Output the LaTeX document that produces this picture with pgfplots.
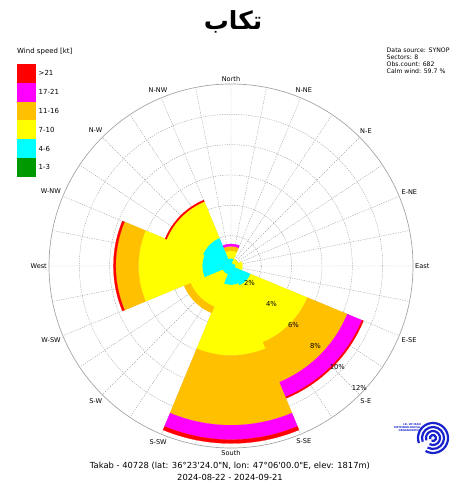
\documentclass[border=0pt]{standalone}
\usepackage{fontspec}
\setmainfont{DejaVu Sans}
\newfontfamily\arabicfont[Script=Arabic]{DejaVu Sans}
\TeXXeTstate=1
\usepackage{pgfplots}
\usepackage{pgfplotstable}
\usepgfplotslibrary{polar}
\pgfplotsset{compat=1.18}
\definecolor{cA}{RGB}{0,153,0}
\definecolor{cB}{RGB}{0,255,255}
\definecolor{cC}{RGB}{255,255,0}
\definecolor{cD}{RGB}{255,192,0}
\definecolor{cE}{RGB}{255,0,255}
\definecolor{cF}{RGB}{255,0,0}
\definecolor{gridc}{RGB}{165,165,165}
\definecolor{logob}{RGB}{25,35,205}

% wind rose: direction (math angle, deg) and percentage per speed class
\pgfplotstableread{
dir  c1  c2   c3   c4   c5   c6
90   0   0.50 0.50 0.30 0.15 0
45   0   0.20 0.30 0    0    0
0    0   0.30 0.45 0    0    0
-45  0   1.40 4.05 2.85 1.05 0.10
-90  0   1.25 4.65 4.60 0.95 0.25
-135 0   0.60 2.30 0.45 0    0
180  0   1.90 4.20 1.50 0    0.15
135  0   2.00 2.60 0    0    0.10
}\rosedata

\newcommand{\rosewedge}[4]{%
  \gdef\wpts{}%
  \foreach \k in {0,...,24}{%
    \pgfmathsetmacro\wang{#1-22.5+1.875*\k}%
    \xdef\wpts{\wpts(\wang,#3)}%
  }%
  \foreach \k in {24,23,...,0}{%
    \pgfmathsetmacro\wang{#1-22.5+1.875*\k}%
    \xdef\wpts{\wpts(\wang,#2)}%
  }%
  \edef\wcmd{\noexpand\addplot[draw=#4, line width=0.2bp, fill=#4, forget plot] coordinates {\wpts} -- cycle;}%
  \wcmd
}

\begin{document}
\begin{tikzpicture}[x=1bp,y=1bp]
\useasboundingbox (0,0) rectangle (456,485);

\node[font=\arabicfont\bfseries\fontsize{25}{28}\selectfont, inner sep=0] at (233,463) {\beginR تکاب\endR};

\begin{polaraxis}[
  at={(231bp,219bp)}, anchor=center,
  scale only axis, width=364bp, height=364bp,
  xmin=0, xmax=360, ymin=0, ymax=12,
  xtick={0,22.5,...,337.5},
  xticklabels={East,E-NE,N-E,N-NE,North,N-NW,N-W,W-NW,West,W-SW,S-W,S-SW,South,S-SE,S-E,E-SE},
  minor xtick={11.25,33.75,...,348.75},
  ytick={2,4,6,8,10},
  y tick label style={opacity=0},
  grid=both,
  major grid style={gridc, dash pattern=on 1.2pt off 1.2pt, line width=0.45pt},
  minor grid style={gridc, dash pattern=on 1.2pt off 1.2pt, line width=0.45pt},
  separate axis lines,
  x axis line style={gridc, line width=0.7pt},
  y axis line style={draw=none},
  tick style={draw=none},
  xticklabel style={font=\fontsize{6.6}{7.5}\selectfont, inner sep=2bp},
  clip=false,
]
\pgfplotsinvokeforeach{0,...,7}{%
  \pgfplotstablegetelem{#1}{dir}\of\rosedata
  \edef\dirv{\pgfplotsretval}%
  \gdef\cum{0}%
  \foreach \c/\col in {c1/cA,c2/cB,c3/cC,c4/cD,c5/cE,c6/cF}{%
    \edef\tmp{\noexpand\pgfplotstablegetelem{#1}{\c}\noexpand\of\noexpand\rosedata}\tmp
    \edef\val{\pgfplotsretval}%
    \pgfmathsetmacro\newcum{\cum+\val}%
    \ifdim\val pt>0pt
      \rosewedge{\dirv}{\cum}{\newcum}{\col}%
    \fi
    \xdef\cum{\newcum}%
  }%
}
\node[font=\fontsize{6.8}{7.5}\selectfont] at (axis cs:-43.5,1.67) {2\%};
\node[font=\fontsize{6.8}{7.5}\selectfont] at (axis cs:-43.5,3.67) {4\%};
\node[font=\fontsize{6.8}{7.5}\selectfont] at (axis cs:-43.5,5.67) {6\%};
\node[font=\fontsize{6.8}{7.5}\selectfont] at (axis cs:-43.5,7.67) {8\%};
\node[font=\fontsize{6.8}{7.5}\selectfont] at (axis cs:-43.5,9.67) {10\%};
\node[font=\fontsize{6.8}{7.5}\selectfont] at (axis cs:-43.5,11.67) {12\%};
\end{polaraxis}

% legend
\node[anchor=west, font=\fontsize{7}{8}\selectfont, inner sep=0] at (17,433) {Wind speed [kt]};
\foreach \col/\lab [count=\i from 0] in {cF/{>21},cE/17-21,cD/11-16,cC/7-10,cB/4-6,cA/1-3}{
  \fill[\col] (17.3,{421-18.8*\i}) rectangle ++(18.7,-18.8);
  \node[anchor=west, font=\fontsize{7}{8}\selectfont, inner sep=0] at (38.5,{421-18.8*\i-9.4}) {\lab};
}

% info text
\node[anchor=north west, align=left, font=\fontsize{6.2}{6.9}\selectfont, inner sep=0] at (386.5,437)
  {Data source: SYNOP\\Sectors: 8\\Obs.count: 682\\Calm wind: 59.7 \%};

% station text
\node[font=\fontsize{8.4}{9}\selectfont, inner sep=0] at (230,19)
  {Takab - 40728 (lat: 36°23\textquotesingle 24.0\textquotedbl N, lon: 47°06\textquotesingle 00.0\textquotedbl E, elev: 1817m)};
\node[font=\fontsize{8.4}{9}\selectfont, inner sep=0] at (230,8) {2024-08-22 - 2024-09-21};

% logo
\begin{scope}[logob]
  \foreach \r in {3,7,11,15}{
    \draw[line width=2.2bp] (433,47) ++(200:\r) arc[start angle=200, end angle=-120, radius=\r];
  }
  \node[font=\fontsize{2.6}{3}\selectfont\bfseries, align=right, inner sep=0, anchor=east] at (421,57)
    {I.R. OF IRAN\\METEOROLOGICAL\\ORGANIZATION};
\end{scope}
\end{tikzpicture}
\end{document}
